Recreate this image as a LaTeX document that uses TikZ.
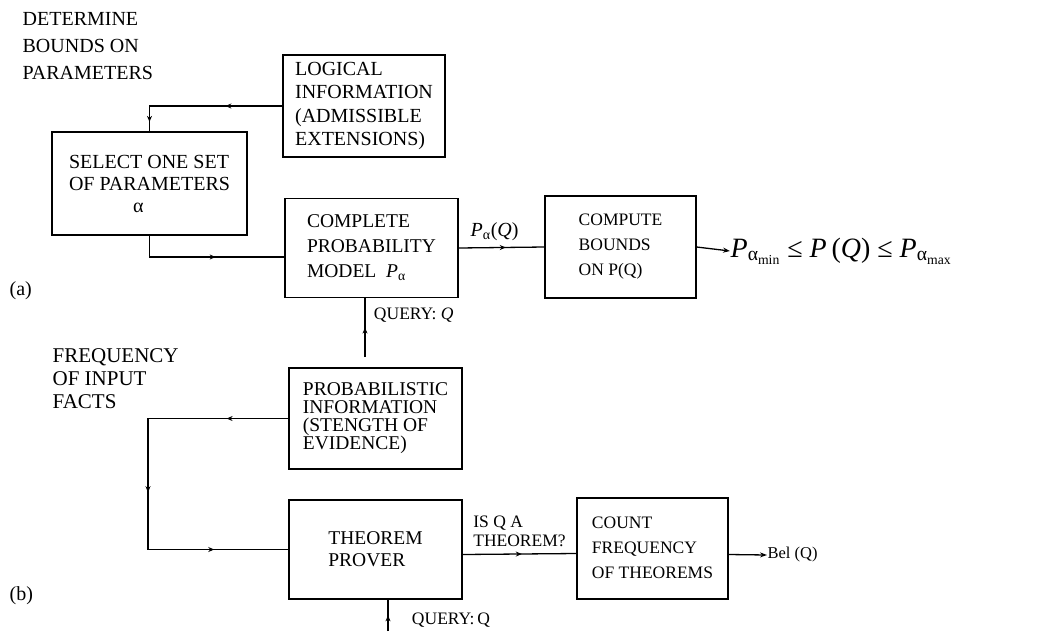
\documentclass[tikz,border=0pt]{standalone}
\usepackage{fontspec}
\setmainfont{Liberation Serif}
\usetikzlibrary{arrows.meta,calc,decorations.markings}

\newcommand{\fsz}[2]{\fontsize{#1}{#2}\selectfont}
\newcommand{\Palpha}{\textit{P}\textsubscript{α}}

\begin{document}
\begin{tikzpicture}[x=1pt,y=-1pt,line width=1.3pt,
    box/.style={draw,align=left,inner sep=0pt},
    lbl/.style={align=left,inner sep=0pt,anchor=north west},
    tip/.style={postaction={decorate,decoration={markings,
      mark=at position #1 with {\arrow{Stealth[length=6pt,width=5pt]}}}}},
    outarr/.style={-{Stealth[length=7pt,width=5pt]}}]
  \useasboundingbox (0,0) rectangle (1050,641);
  % side labels
  \node[lbl,font=\fsz{20}{27}] (det) at (22,12) {DETERMINE\\BOUNDS ON\\PARAMETERS};
  \node[lbl,font=\fsz{21}{23}] (freq) at (52,348) {FREQUENCY\\OF INPUT\\FACTS};
  \node[lbl,font=\fsz{20}{22}] (la) at (9,281) {(a)};
  \node[lbl,font=\fsz{20}{22}] (lb) at (9,586) {(b)};
  % (a) boxes
  \node[box,font=\fsz{20}{23.5},minimum width=162,minimum height=102] (logical) at (364,106)
    {LOGICAL\\INFORMATION\\(ADMISSIBLE\\EXTENSIONS)};
  \node[box,font=\fsz{20}{22},minimum width=195,minimum height=103] (select) at (149.5,183.5)
    {SELECT ONE SET\\OF PARAMETERS\\\hspace*{3.2em}α};
  \node[box,font=\fsz{19.5}{25},minimum width=173,minimum height=99] (complete) at (371.5,248)
    {COMPLETE\\PROBABILITY\\MODEL\ \ \Palpha};
  \node[box,font=\fsz{17.5}{25},minimum width=151,minimum height=102] (compute) at (620.5,247)
    {COMPUTE\\BOUNDS\\ON P(Q)};
  \node[lbl,anchor=west,font=\fsz{28}{30}] (bounds) at (730,251)
    {\textit{P}\textsubscript{α\textsubscript{min}} ≤ \textit{P}\,(\textit{Q}) ≤ \textit{P}\textsubscript{α\textsubscript{max}}};
  % (b) boxes
  \node[box,font=\fsz{19.5}{18},minimum width=173,minimum height=101] (prob) at (375.5,418.5)
    {PROBABILISTIC\\INFORMATION\\(STENGTH OF\\EVIDENCE)};
  \node[box,font=\fsz{19.5}{22},minimum width=173,minimum height=99] (prover) at (375.5,549.5)
    {THEOREM\\PROVER};
  \node[box,font=\fsz{17.5}{25},minimum width=151,minimum height=101] (count) at (652.5,548.5)
    {\raisebox{7pt}{\begin{tabular}{@{}l@{}}COUNT\\FREQUENCY\\OF THEOREMS\end{tabular}}};
  % connectors (a)
  \draw[tip=0.36,tip=0.94] (logical.west) -| (select.north);
  \draw[tip=0.56] (select.south) |- ([yshift=-9pt]complete.west);
  \draw[tip=0.55] (complete.east) -- node[above=3pt,pos=0.42,font=\fsz{20}{20}] {\Palpha(\textit{Q})} (compute.west);
  \draw[outarr] (compute.east) -- (bounds.west);
  \coordinate (qa) at (365,357);
  \draw[tip=0.5] (qa) -- (qa |- complete.south)
    node[pos=0.72,right=5pt,font=\fsz{17.5}{20}] {QUERY:\ \textit{Q}};
  % connectors (b)
  \coordinate (loop) at (148,0);
  \draw[tip=0.15,tip=0.52,tip=0.82] (prob.west) -- (prob.west -| loop)
    -- (prover.west -| loop) -- (prover.west);
  \draw[tip=0.52] ([yshift=-5pt]prover.east) -- node[above=3pt,align=left,font=\fsz{17.5}{19}] {IS Q A\\THEOREM?} ([yshift=-5pt]count.west);
  \node[lbl,anchor=west,font=\fsz{16.5}{18}] (bel) at (767,555) {Bel (Q)};
  \draw[outarr] ([yshift=-6pt]count.east) -- (bel.west);
  \coordinate (qb) at (388,631);
  \draw[tip=0.5] (qb) -- (qb |- prover.south)
    node[pos=0.0,right=20pt,anchor=south west,font=\fsz{17.5}{20}] {QUERY:\,Q};
\end{tikzpicture}
\end{document}
